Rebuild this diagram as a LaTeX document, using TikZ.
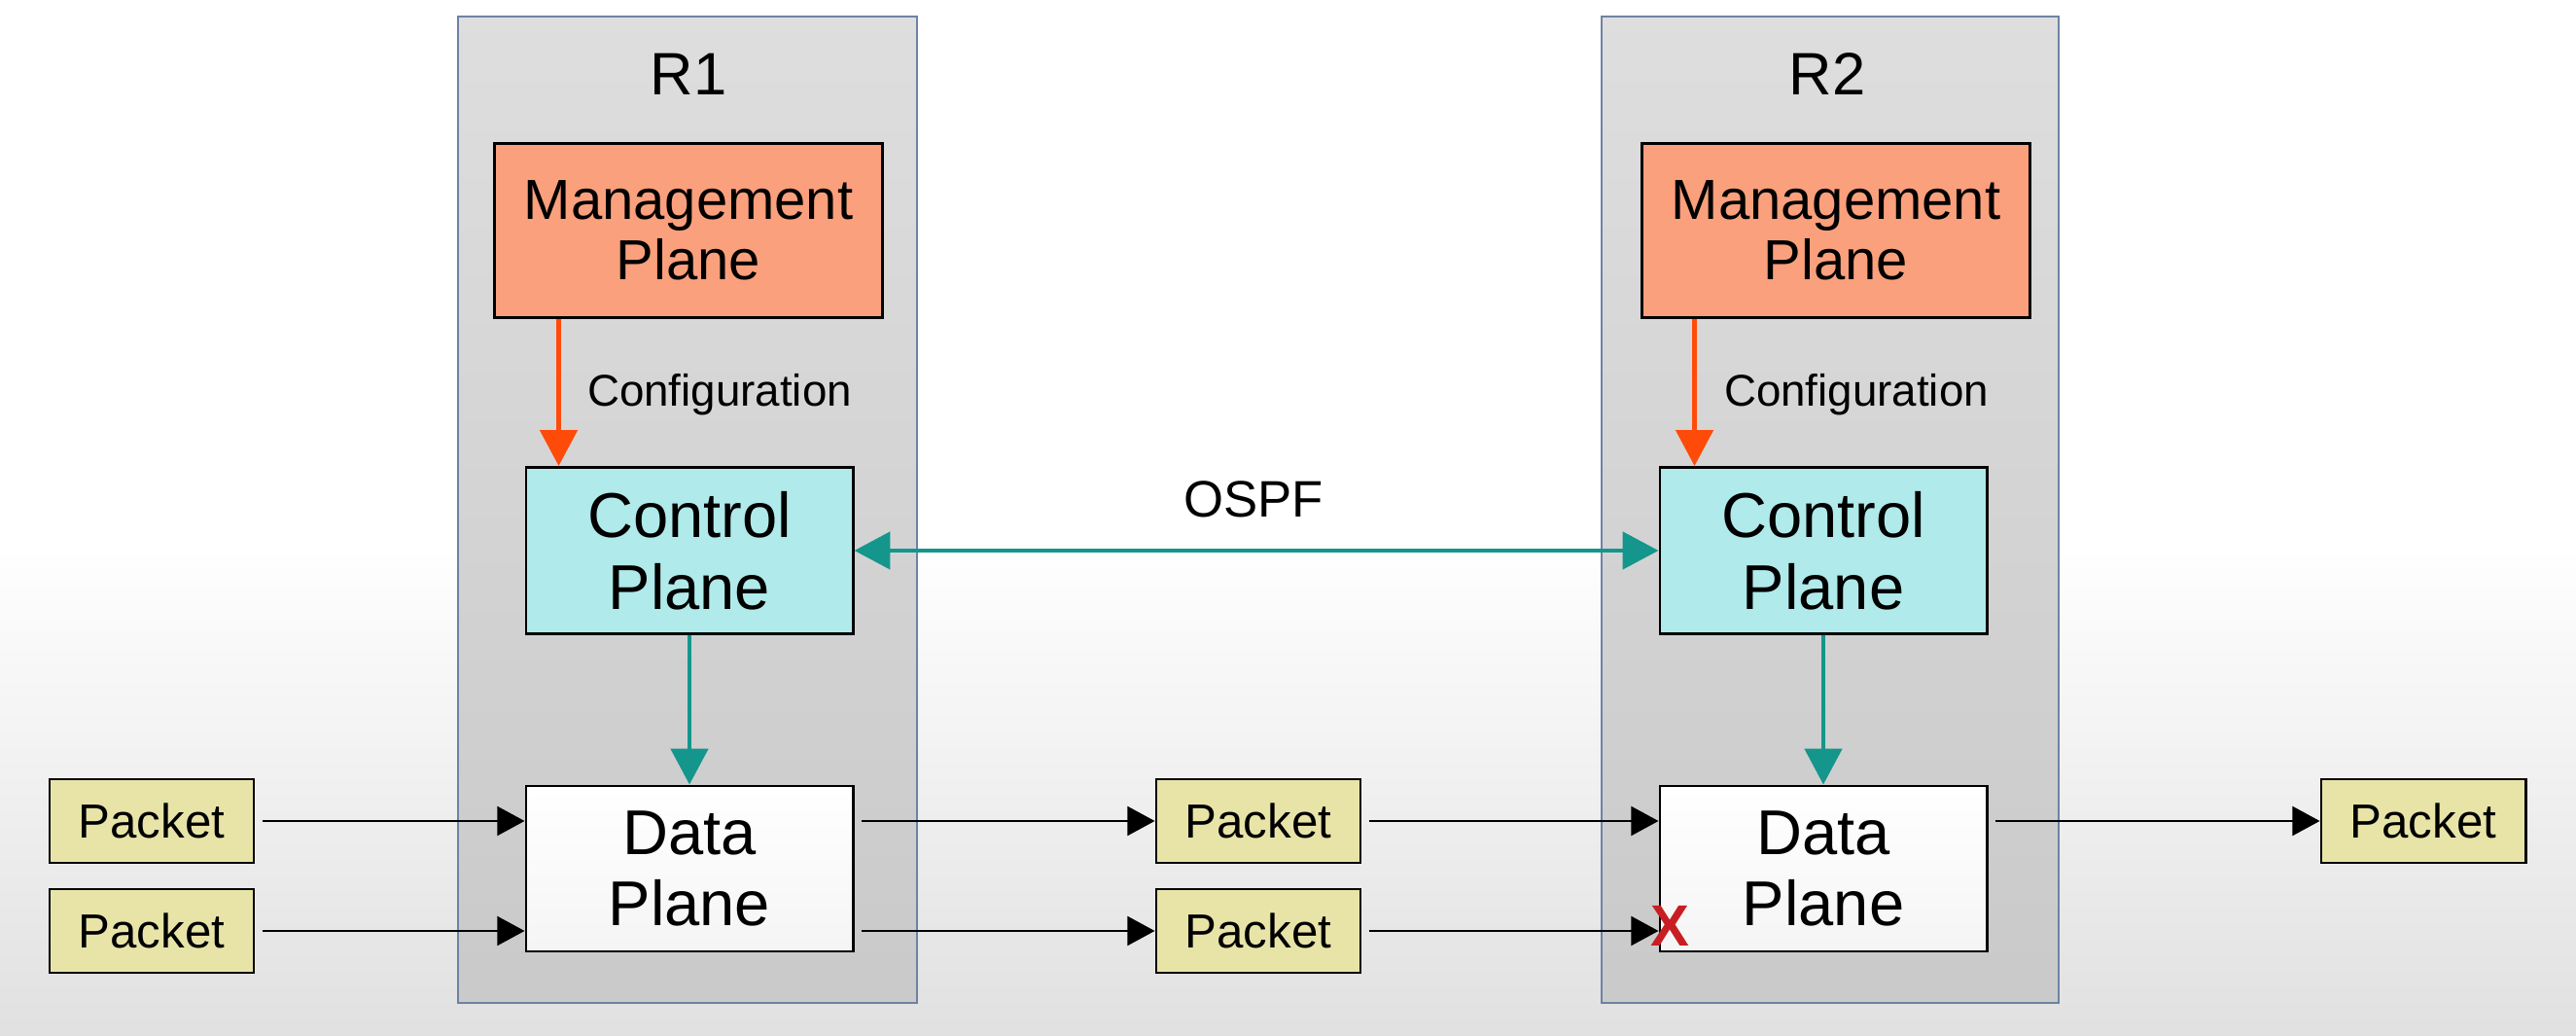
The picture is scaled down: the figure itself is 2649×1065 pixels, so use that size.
\documentclass[tikz,border=0pt]{standalone}
\usepackage{fontspec}
\setmainfont{Liberation Sans}
\usetikzlibrary{arrows.meta}
\definecolor{mgmtfill}{RGB}{251,160,124}
\definecolor{ctrlfill}{RGB}{176,234,234}
\definecolor{pktfill}{RGB}{232,228,168}
\definecolor{routerborder}{RGB}{110,130,165}
\definecolor{tealarrow}{RGB}{20,150,140}
\definecolor{orangearrow}{RGB}{255,75,10}
\definecolor{xred}{RGB}{200,30,35}
\tikzset{
  routerbox/.style={draw=routerborder, line width=0.6pt, top color=black!13, bottom color=black!21, inner sep=0pt},
  planebox/.style={draw=black, line width=0.8pt, inner sep=0pt, align=center},
  mgmtbox/.style={planebox, fill=mgmtfill, minimum width=3.99cm, minimum height=1.79cm, font=\fontsize{16.5}{17.8}\selectfont},
  ctrlbox/.style={planebox, fill=ctrlfill, minimum width=3.36cm, minimum height=1.71cm, font=\fontsize{18.5}{21}\selectfont},
  databox/.style={planebox, top color=white, bottom color=black!4, minimum width=3.36cm, minimum height=1.70cm, font=\fontsize{18.5}{21}\selectfont},
  pktbox/.style={planebox, fill=pktfill, minimum width=2.10cm, minimum height=0.86cm, font=\fontsize{14}{16}\selectfont},
  rlabel/.style={inner sep=0pt, font=\fontsize{17.5}{20}\selectfont},
  cfglabel/.style={inner sep=0pt, font=\fontsize{13}{15}\selectfont},
  ospflabel/.style={inner sep=0pt, font=\fontsize{15}{18}\selectfont},
  cfgarrow/.style={draw=orangearrow, line width=1.4pt, -{Triangle[width=10.8pt,length=10.5pt]}},
  tealarr/.style={draw=tealarrow, line width=1.4pt, -{Triangle[width=10.8pt,length=10.5pt]}},
  tealboth/.style={draw=tealarrow, line width=1.4pt, {Triangle[width=10.8pt,length=10.5pt]}-{Triangle[width=10.8pt,length=10.5pt]}},
  pktarrow/.style={draw=black, line width=0.7pt, -{Triangle[width=8.5pt,length=8pt]}},
}
\begin{document}
\begin{tikzpicture}[x=0.01cm, y=-0.01cm]
\useasboundingbox (0,0) rectangle (2649,1065);
\fill[white] (0,0) rectangle (2649,1065);
\fill[top color=white, bottom color=black!12] (0,560) rectangle (2649,1065);

% routers
\node[routerbox, minimum width=4.72cm, minimum height=10.14cm] (r1) at (707,524) {};
\node[routerbox, minimum width=4.70cm, minimum height=10.14cm] (r2) at (1882,524) {};
\node[rlabel] (r1lab) at (708,76) {R1};
\node[rlabel] (r2lab) at (1879,76) {R2};

% planes R1
\node[mgmtbox] (mgmt1) at (708,237) {Management\\Plane};
\node[ctrlbox] (ctrl1) at (709,566) {Control\\Plane};
\node[databox] (data1) at (709,893) {Data\\Plane};
% planes R2
\node[mgmtbox] (mgmt2) at (1888,237) {Management\\Plane};
\node[ctrlbox] (ctrl2) at (1875,566) {Control\\Plane};
\node[databox] (data2) at (1875,893) {Data\\Plane};

% labels
\node[cfglabel] (cfg1) at (740,406) {Configuration};
\node[cfglabel] (cfg2) at (1909,406) {Configuration};
\node[ospflabel] (ospf) at (1289,513) {OSPF};

% packets
\node[pktbox] (pl1) at (156,844) {Packet};
\node[pktbox] (pl2) at (156,957) {Packet};
\node[pktbox] (pm1) at (1294,844) {Packet};
\node[pktbox] (pm2) at (1294,957) {Packet};
\node[pktbox] (pr1) at (2492,844) {Packet};

% management -> control
\draw[cfgarrow] ([xshift=0.35cm]ctrl1.north west |- mgmt1.south) -- ([xshift=0.35cm]ctrl1.north west);
\draw[cfgarrow] ([xshift=0.37cm]ctrl2.north west |- mgmt2.south) -- ([xshift=0.37cm]ctrl2.north west);

% control -> data
\draw[tealarr] (ctrl1.south) -- (data1.north);
\draw[tealarr] (ctrl2.south) -- (data2.north);

% OSPF
\draw[tealboth] (ctrl1.east) -- (ctrl2.west);

% packet flows
\draw[pktarrow] ([xshift=2pt]pl1.east) -- (data1.west |- pl1.east);
\draw[pktarrow] ([xshift=2pt]pl2.east) -- (data1.west |- pl2.east);
\draw[pktarrow] ([xshift=2pt]data1.east |- pm1.west) -- (pm1.west);
\draw[pktarrow] ([xshift=2pt]data1.east |- pm2.west) -- (pm2.west);
\draw[pktarrow] ([xshift=2pt]pm1.east) -- (data2.west |- pm1.east);
\draw[pktarrow] ([xshift=2pt]pm2.east) -- (data2.west |- pm2.east);
\draw[pktarrow] ([xshift=2pt]data2.east |- pr1.west) -- (pr1.west);

% drop mark
\node[inner sep=0pt, text=xred, font=\fontsize{17}{20}\selectfont\bfseries] (xmark) at (1717,952) {X};
\end{tikzpicture}
\end{document}
